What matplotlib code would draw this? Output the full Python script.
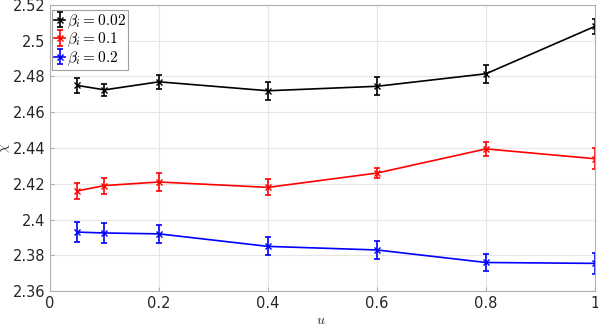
import matplotlib
matplotlib.use("Agg")
import matplotlib.pyplot as plt

plt.rcParams["mathtext.fontset"] = "cm"

u = [0.05, 0.1, 0.2, 0.4, 0.6, 0.8, 1.0]
chi_002 = [2.475, 2.4725, 2.477, 2.472, 2.4745, 2.4815, 2.508]
err_002 = [0.004, 0.0035, 0.004, 0.005, 0.005, 0.005, 0.004]
chi_01 = [2.416, 2.419, 2.421, 2.418, 2.426, 2.4395, 2.434]
err_01 = [0.0045, 0.0045, 0.005, 0.0045, 0.003, 0.004, 0.006]
chi_02 = [2.393, 2.3925, 2.392, 2.385, 2.383, 2.376, 2.3755]
err_02 = [0.0055, 0.0055, 0.005, 0.005, 0.005, 0.0045, 0.006]
labels = [r"$\beta_i = 0.02$", r"$\beta_i = 0.1$", r"$\beta_i = 0.2$"]
colors = ["black", "red", "blue"]

fig = plt.figure(figsize=(5.98, 3.26), dpi=100)
ax = fig.add_axes([0.0836, 0.107, 0.9114, 0.878])

for y, e, c, l in zip([chi_002, chi_01, chi_02], [err_002, err_01, err_02], colors, labels):
    ax.errorbar(u, y, yerr=e, color=c, marker="x", markersize=5, linewidth=1.2,
                elinewidth=1.2, capsize=2, capthick=1.2, label=l)

ax.set_xlim(0, 1)
ax.set_ylim(2.36, 2.52)
ax.set_xticks([0, 0.2, 0.4, 0.6, 0.8, 1])
ax.set_xticklabels(["0", "0.2", "0.4", "0.6", "0.8", "1"])
ax.set_yticks([2.36, 2.38, 2.40, 2.42, 2.44, 2.46, 2.48, 2.50, 2.52])
ax.set_yticklabels(["2.36", "2.38", "2.4", "2.42", "2.44", "2.46", "2.48", "2.5", "2.52"])
ax.grid(True, color="#e6e6e6", linewidth=0.8)
ax.set_axisbelow(True)
for s in ax.spines.values():
    s.set_color("#b0b0b0")
    s.set_linewidth(0.8)
ax.tick_params(axis="both", colors="#b0b0b0", labelcolor="#262626", labelsize=10.5,
               direction="in", length=3, top=False, right=False)
ax.set_xlabel(r"$u$", fontsize=10, color="#262626")
ax.set_ylabel(r"$\chi$", fontsize=10, color="#262626", rotation=90)
ax.xaxis.set_label_coords(0.497, -0.078)
ax.yaxis.set_label_coords(-0.07, 0.5)

leg = ax.legend(loc="upper left", bbox_to_anchor=(0.004, 0.982), fontsize=11,
                frameon=True, fancybox=False, handlelength=0.7, handletextpad=0.1,
                borderpad=0.15, labelspacing=0.0, borderaxespad=0.0)
leg.get_frame().set_edgecolor("#a0a0a0")
leg.get_frame().set_linewidth(0.8)
leg.get_frame().set_alpha(1)

fig.savefig("out.png", dpi=100)
